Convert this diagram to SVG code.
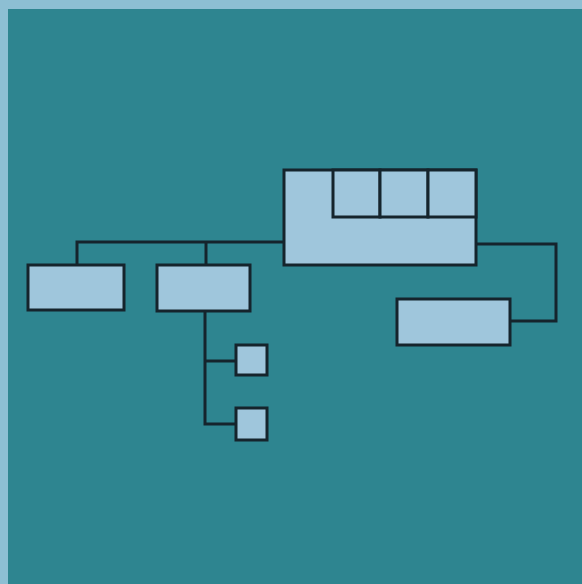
<svg xmlns="http://www.w3.org/2000/svg" width="582" height="584" viewBox="0 0 582 584">
<style>
.n{fill:#9fc6dc;stroke:#15242c;stroke-width:3}
.c{fill:none;stroke:#15242c;stroke-width:3}
</style>
<rect x="0" y="0" width="582" height="584" fill="#8dbfd3"/>
<rect x="8" y="9" width="574" height="575" fill="#2e8590"/>
<g id="connectors">
<polyline class="c" points="77,265 77,242 284,242"/>
<line class="c" x1="206" y1="242" x2="206" y2="265"/>
<polyline class="c" points="205,311 205,424 236,424"/>
<line class="c" x1="205" y1="361" x2="236" y2="361"/>
<polyline class="c" points="476,244 556,244 556,321 510,321"/>
</g>
<g id="main"><rect class="n" x="284" y="170" width="192" height="95"/></g>
<g id="sub1"><rect class="n" x="333" y="170" width="47" height="47"/></g>
<g id="sub2"><rect class="n" x="380" y="170" width="48" height="47"/></g>
<g id="sub3"><rect class="n" x="428" y="170" width="48" height="47"/></g>
<g id="left1"><rect class="n" x="28" y="265" width="96" height="45"/></g>
<g id="left2"><rect class="n" x="157" y="265" width="93" height="46"/></g>
<g id="right1"><rect class="n" x="397" y="299" width="113" height="46"/></g>
<g id="small1"><rect class="n" x="236" y="345" width="31" height="30"/></g>
<g id="small2"><rect class="n" x="236" y="408" width="31" height="32"/></g>
</svg>
